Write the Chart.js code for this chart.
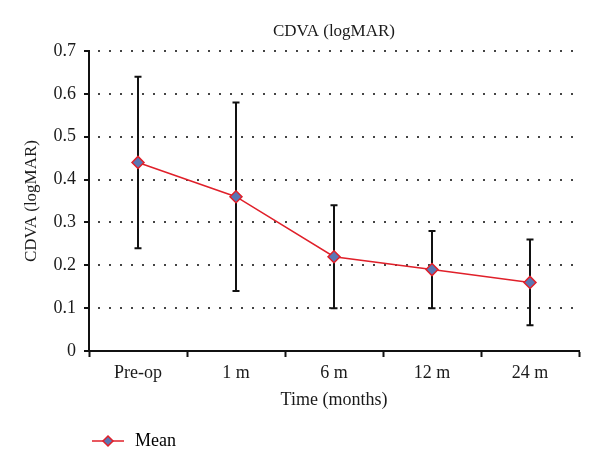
<!DOCTYPE html>
<html lang="en">
<head>
    <meta charset="UTF-8">
    <title>CDVA (logMAR)</title>
    <script src="https://cdn.jsdelivr.net/npm/chart.js"></script>
    <style>
        html, body { margin: 0; padding: 0; background: #fff; }
    </style>
</head>
<body>
    <canvas id="cdvaChart" width="600" height="474"></canvas>

    <script>
        // Datos del gráfico
        const categories = ['Pre-op', '1 m', '6 m', '12 m', '24 m'];
        const meanValues = [0.44, 0.36, 0.22, 0.19, 0.16];
        const lowerValues = [0.24, 0.14, 0.10, 0.10, 0.06];
        const upperValues = [0.64, 0.58, 0.34, 0.28, 0.26];
        const yMin = 0, yMax = 0.7, yStep = 0.1;

        const FONT = '"Liberation Serif", "DejaVu Serif", serif';
        const TEXT = '#1a1a1a';
        const RED = '#e0202a';
        const BLUE = '#5a77b4';

        // Icono de la leyenda: línea roja con rombo
        const legendIcon = document.createElement('canvas');
        legendIcon.width = 32;
        legendIcon.height = 14;
        (function () {
            const c = legendIcon.getContext('2d');
            c.strokeStyle = RED;
            c.lineWidth = 1.5;
            c.beginPath();
            c.moveTo(0, 7);
            c.lineTo(32, 7);
            c.stroke();
            c.beginPath();
            c.moveTo(16, 2); c.lineTo(21, 7); c.lineTo(16, 12); c.lineTo(11, 7); c.closePath();
            c.fillStyle = BLUE;
            c.fill();
            c.stroke();
        })();

        // Barras de error dibujadas con las escalas del gráfico
        const errorBars = {
            id: 'errorBars',
            beforeDatasetsDraw(chart) {
                const ctx = chart.ctx;
                const x = chart.scales.x, y = chart.scales.y;
                ctx.save();
                ctx.strokeStyle = '#111';
                ctx.lineWidth = 2;
                categories.forEach((cat, i) => {
                    const px = x.getPixelForValue(i);
                    const top = y.getPixelForValue(upperValues[i]);
                    const bot = y.getPixelForValue(lowerValues[i]);
                    ctx.beginPath();
                    ctx.moveTo(px, top); ctx.lineTo(px, bot);
                    ctx.moveTo(px - 3.5, top); ctx.lineTo(px + 3.5, top);
                    ctx.moveTo(px - 3.5, bot); ctx.lineTo(px + 3.5, bot);
                    ctx.stroke();
                });
                ctx.restore();
            }
        };

        // Título centrado sobre el área del gráfico
        const topTitle = {
            id: 'topTitle',
            afterDraw(chart) {
                const ctx = chart.ctx;
                const a = chart.chartArea;
                ctx.save();
                ctx.font = '17px ' + FONT;
                ctx.fillStyle = TEXT;
                ctx.textAlign = 'center';
                ctx.textBaseline = 'middle';
                ctx.fillText('CDVA (logMAR)', (a.left + a.right) / 2, 32);
                ctx.restore();
            }
        };

        const ctx = document.getElementById('cdvaChart').getContext('2d');
        new Chart(ctx, {
            type: 'line',
            data: {
                labels: categories,
                datasets: [{
                    label: 'Mean',
                    data: meanValues,
                    borderColor: RED,
                    borderWidth: 1.5,
                    pointStyle: 'rectRot',
                    pointRadius: 6,
                    pointBackgroundColor: BLUE,
                    pointBorderColor: RED,
                    pointBorderWidth: 1.5,
                    tension: 0
                }]
            },
            options: {
                responsive: false,
                animation: false,
                layout: { padding: { left: 18, right: 21, top: 51, bottom: 14 } },
                plugins: {
                    title: { display: false },
                    tooltip: { enabled: false },
                    legend: {
                        position: 'bottom',
                        align: 'start',
                        fullSize: false,
                        labels: {
                            usePointStyle: true,
                            pointStyleWidth: 36,
                            padding: 1,
                            color: TEXT,
                            font: { family: FONT, size: 18 },
                            generateLabels: chart => [{
                                text: 'Mean',
                                pointStyle: legendIcon,
                                fillStyle: BLUE,
                                strokeStyle: RED,
                                lineWidth: 0,
                                datasetIndex: 0
                            }]
                        }
                    }
                },
                scales: {
                    x: {
                        offset: true,
                        grid: {
                            offset: true,
                            drawOnChartArea: false,
                            drawTicks: true,
                            tickLength: 6,
                            tickColor: '#111',
                            tickWidth: 2
                        },
                        border: { display: true, color: '#111', width: 2 },
                        ticks: { color: TEXT, padding: 5, font: { family: FONT, size: 18 } },
                        title: {
                            display: true,
                            text: 'Time (months)',
                            color: TEXT,
                            font: { family: FONT, size: 18 },
                            padding: { top: 0, bottom: 20 }
                        },
                        afterFit: scale => { scale.height = 80; }
                    },
                    y: {
                        min: yMin,
                        max: yMax,
                        grid: {
                            color: '#444',
                            lineWidth: 2,
                            drawTicks: true,
                            tickLength: 5,
                            tickColor: '#111',
                            tickWidth: 2,
                            tickBorderDash: []
                        },
                        border: { display: true, color: '#111', width: 2, dash: [2, 9], dashOffset: -8 },
                        ticks: {
                            stepSize: yStep,
                            color: TEXT,
                            padding: 8,
                            font: { family: FONT, size: 18 },
                            callback: v => String(Number(v.toFixed(1)))
                        },
                        title: {
                            display: true,
                            text: 'CDVA (logMAR)',
                            color: TEXT,
                            font: { family: FONT, size: 17 },
                            padding: { top: 3, bottom: 4 }
                        },
                        afterFit: scale => { scale.width = 89 - 18; }
                    }
                }
            },
            plugins: [errorBars, topTitle]
        });
    </script>
</body>
</html>
